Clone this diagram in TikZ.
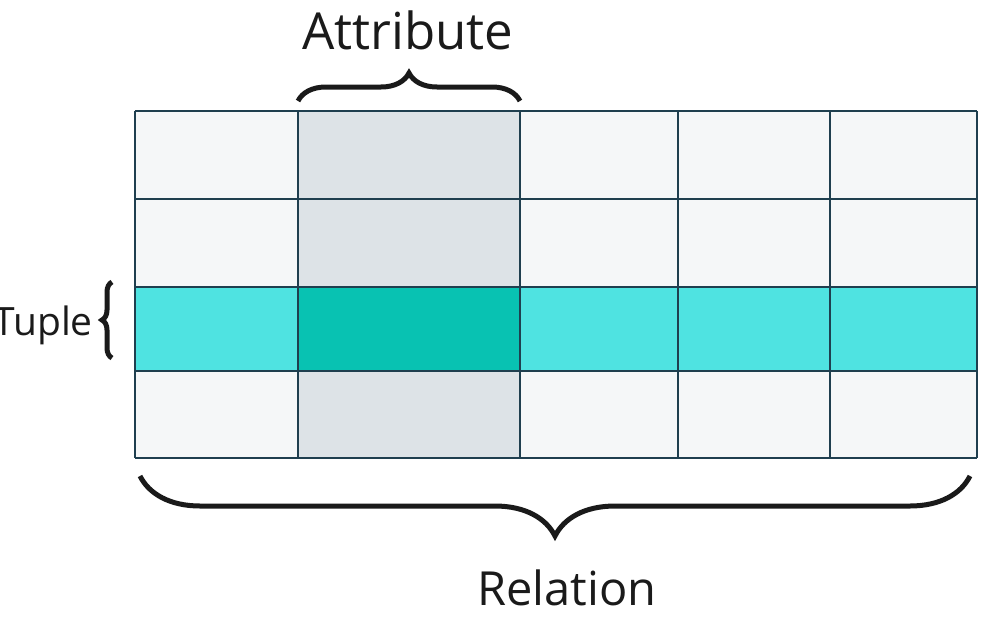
\documentclass[tikz,border=0pt]{standalone}
\usepackage{fontspec}
\setmainfont{Open Sans}
\usetikzlibrary{decorations.pathreplacing,calc}
\definecolor{cellgrey}{HTML}{F5F7F8}
\definecolor{colgrey}{HTML}{DDE3E7}
\definecolor{rowcyan}{HTML}{4FE3E1}
\definecolor{hitteal}{HTML}{08C2B2}
\definecolor{gridline}{HTML}{1F3F4F}
\definecolor{inkblack}{HTML}{1A1A1A}
\tikzset{
  gridpen/.style={draw=gridline,line width=2.4pt},
  bracepen/.style={draw=inkblack,line width=5pt,decorate},
  labeltext/.style={text=inkblack,inner sep=0pt}
}
\begin{document}
\begin{tikzpicture}[x=1pt,y=-1pt]
				\useasboundingbox (0,0) rectangle (1000,621);
				
				% cells
				\fill[cellgrey] (135,111) rectangle (977,458);
				\fill[colgrey] (298,111) rectangle (520,458);
				\fill[rowcyan] (135,287) rectangle (977,371);
				\fill[hitteal] (298,287) rectangle (520,371);
				
				\foreach \x in {135,298,520,678,830,977}{
					\draw[gridpen] (\x,111) -- (\x,458);
				}
				\foreach \y in {111,199,287,371,458}{
					\draw[gridpen] (135,\y) -- (977,\y);
				}
				
				% braces
				\coordinate (attrL) at (298,101);
				\coordinate (attrR) at (520,101);
				\draw[bracepen,decoration={brace,amplitude=28pt}] (attrL) -- (attrR);
				\node[labeltext,font=\fontsize{51}{60}\selectfont] (attr) at (408,30) {Attribute};
				
				\coordinate (tupB) at (112,358);
				\coordinate (tupT) at (112,282);
				\draw[bracepen,decoration={brace,amplitude=10pt}] (tupB) -- (tupT);
				\node[labeltext,font=\fontsize{39}{46}\selectfont,anchor=east] (tup) at (93,325) {Tuple};
				
				\coordinate (relR) at (970,476);
				\coordinate (relL) at (140,476);
				\draw[bracepen,decoration={brace,amplitude=60pt}] (relR) -- (relL);
				\node[labeltext,font=\fontsize{47}{56}\selectfont] (rel) at (567,588) {Relation};
			\end{tikzpicture}
\end{document}
